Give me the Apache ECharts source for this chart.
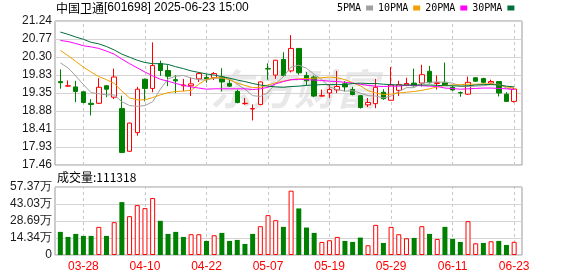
<!DOCTYPE html>
<html>
<head>
<meta charset="utf-8">
<script src="https://cdn.jsdelivr.net/npm/echarts@6/dist/echarts.min.js"></script>
<style>
html,body{margin:0;padding:0;background:#fff;}
#c{width:578px;height:276px;}
</style>
</head>
<body>
<div id="c"></div>
<script>
const dates = ['03-25','03-26','03-27','03-28','03-31','04-01','04-02','04-03','04-07','04-08','04-09','04-10','04-11','04-14','04-15','04-16','04-17','04-18','04-21','04-22','04-23','04-24','04-25','04-28','04-29','04-30','05-06','05-07','05-08','05-09','05-12','05-13','05-14','05-15','05-16','05-19','05-20','05-21','05-22','05-23','05-26','05-27','05-28','05-29','05-30','06-03','06-04','06-05','06-06','06-09','06-10','06-11','06-12','06-13','06-16','06-17','06-18','06-19','06-20','06-23'];
const opens  = [19.65,19.53,19.51,19.38,19.08,19.08,19.54,19.24,18.94,17.82,18.31,19.71,19.47,20.12,19.94,19.70,19.54,19.54,19.72,19.76,19.75,19.77,19.60,19.39,19.07,18.93,19.05,19.99,19.82,20.23,19.93,20.52,19.81,19.77,19.27,19.35,19.43,19.59,19.44,19.28,19.04,19.07,19.37,19.16,19.42,19.56,19.61,19.61,19.92,19.60,19.63,19.50,19.36,19.32,19.75,19.73,19.61,19.65,19.32,19.13];
const closes = [19.62,19.54,19.39,19.10,19.05,19.50,19.45,19.77,17.79,18.56,19.45,19.47,20.07,19.94,19.79,19.67,19.56,19.59,19.86,19.72,19.86,19.64,19.53,19.10,19.08,18.94,19.64,19.98,20.21,19.81,20.52,19.88,19.67,19.27,19.28,19.44,19.52,19.51,19.31,18.97,19.10,19.50,19.20,19.56,19.57,19.60,19.54,19.83,19.62,19.62,19.56,19.43,19.35,19.63,19.66,19.63,19.65,19.35,19.13,19.455];
const highs  = [19.97,19.68,19.67,19.39,19.19,19.74,19.56,19.99,19.28,18.57,19.51,19.73,20.68,20.20,20.08,19.82,19.72,19.76,19.89,19.84,19.90,20.00,19.70,19.44,19.22,19.05,19.65,20.13,20.22,20.42,20.87,20.53,19.90,19.81,19.44,19.57,19.93,19.66,19.51,19.30,19.22,19.72,19.45,20.03,19.67,19.75,19.99,20.09,20.06,19.81,20.15,19.54,19.39,19.78,19.76,19.75,19.70,19.65,19.37,19.48];
const lows   = [19.46,19.52,19.11,19.08,18.76,19.06,19.24,19.19,17.78,17.81,18.23,19.13,19.37,19.80,19.53,19.35,19.40,19.27,19.64,19.62,19.69,19.39,19.51,19.08,19.04,18.63,19.03,19.70,19.72,19.77,19.89,19.83,19.55,19.24,19.26,19.22,19.35,19.39,19.29,18.94,18.98,18.95,19.17,19.15,19.27,19.53,19.52,19.52,19.60,19.44,19.55,19.41,19.25,19.30,19.64,19.60,19.58,19.26,19.13,19.10];
const volumes = [195000,152600,178000,161100,161100,237400,161100,277000,446500,327800,421100,395600,480400,288300,178000,195000,152600,175200,175200,118700,166700,186500,118700,127200,93300,178000,243000,336300,293900,237400,542600,392800,231700,186500,110200,124300,152600,118700,110200,147000,82000,254300,101700,237400,175200,141300,144100,243000,178000,135600,237400,135600,110200,285400,98900,101700,115900,118700,84800,111318];
const prevClose = 19.70;
const ma5  = [20.14,20.01,19.80,19.57,19.36,19.33,19.30,19.30,19.12,19.02,19.00,19.02,19.12,19.45,19.72,19.79,19.81,19.74,19.70,19.69,19.74,19.74,19.72,19.58,19.45,19.28,19.26,19.36,19.60,19.78,20.03,20.08,20.00,19.84,19.70,19.51,19.44,19.40,19.41,19.35,19.28,19.27,19.22,19.27,19.39,19.49,19.49,19.61,19.63,19.64,19.63,19.61,19.53,19.52,19.53,19.54,19.58,19.58,19.48,19.44];
const ma10 = [20.47,20.33,20.18,20.03,19.90,19.78,19.70,19.60,19.40,19.22,19.17,19.17,19.23,19.30,19.36,19.39,19.40,19.42,19.58,19.71,19.75,19.75,19.70,19.61,19.55,19.49,19.50,19.56,19.62,19.66,19.70,19.72,19.73,19.74,19.75,19.77,19.75,19.70,19.62,19.54,19.41,19.35,19.31,19.32,19.35,19.37,19.39,19.42,19.46,19.51,19.55,19.56,19.57,19.58,19.58,19.59,19.59,19.56,19.51,19.48];
const ma20 = [20.73,20.70,20.65,20.59,20.56,20.52,20.45,20.37,20.24,20.12,20.01,19.90,19.80,19.71,19.66,19.60,19.55,19.51,19.48,19.45,19.46,19.46,19.46,19.46,19.46,19.44,19.46,19.50,19.59,19.65,19.70,19.71,19.70,19.69,19.68,19.66,19.65,19.63,19.61,19.58,19.55,19.53,19.52,19.53,19.53,19.55,19.55,19.54,19.53,19.52,19.48,19.465,19.45,19.46,19.47,19.48,19.48,19.47,19.46,19.44];
const ma30 = [20.95,20.89,20.82,20.76,20.68,20.64,20.57,20.48,20.37,20.29,20.21,20.15,20.12,20.12,20.10,20.04,19.99,19.93,19.89,19.85,19.82,19.78,19.74,19.69,19.65,19.60,19.56,19.53,19.51,19.50,19.52,19.53,19.55,19.56,19.57,19.57,19.57,19.57,19.60,19.61,19.60,19.60,19.58,19.57,19.56,19.56,19.56,19.56,19.56,19.55,19.54,19.54,19.53,19.54,19.56,19.57,19.57,19.56,19.53,19.51];
const priceTicks = ['17.46','17.93','18.41','18.88','19.35','19.83','20.30','20.77','21.24'];
const volTicks = ['0','14.34万','28.69万','43.03万','57.37万'];
const labelDates = ['03-28','04-10','04-22','05-07','05-19','05-29','06-11','06-23'];
const priceMin = 17.46, priceMax = 21.24, volMax = 573700;
const stockTitle = '中国卫通';
const stockCode = '[601698] 2025-06-23 15:00';

const UP = '#ff0000', DOWN = '#008000';
const chart = echarts.init(document.getElementById('c'), null, {renderer: 'canvas'});

const kData = dates.map((d, i) => [opens[i], closes[i], lows[i], highs[i]]);
const volData = volumes.map((v, i) => {
  const pc = i === 0 ? prevClose : closes[i - 1];
  const up = closes[i] >= pc;
  return {value: v, itemStyle: up ? {color: '#ffffff', borderColor: UP, borderWidth: 1} : {color: DOWN, borderColor: DOWN, borderWidth: 0}};
});
const vLines = labelDates.map(d => ({xAxis: d}));
const dashStyle = {color: '#c8c8c8', width: 1, type: [3, 3]};
const maDefs = [['5PMA', ma5, '#a0a0a0'], ['10PMA', ma10, '#f0a000'], ['20PMA', ma20, '#ff00ff'], ['30PMA', ma30, '#006f3a']];
const labelFont = 'Liberation Sans';

const option = {
  animation: false,
  title: [
    {text: '{c|' + stockTitle + '}{m|' + stockCode + '}', left: 56, top: 2, padding: 0,
     textStyle: {fontWeight: 'normal', rich: {c: {fontSize: 12, fontWeight: 'normal', fontFamily: 'Noto Sans CJK SC', color: '#000'},
                        m: {fontSize: 12, fontWeight: 'normal', fontFamily: labelFont, color: '#000'}}}},
    {text: '成交量:' + volumes[volumes.length - 1], left: 57, top: 171, padding: 0,
     textStyle: {fontSize: 12, fontWeight: 'normal', color: '#000', fontFamily: 'Noto Sans CJK SC'}}
  ],
  legend: {
    left: 337, top: 3, padding: 0, itemWidth: 7, itemHeight: 5, itemGap: 5, align: 'right',
    icon: 'rect', selectedMode: false,
    data: maDefs.map(m => m[0]),
    textStyle: {fontFamily: 'DejaVu Sans Mono', fontSize: 10, color: '#000'}
  },
  grid: [
    {left: 55, top: 21, width: 467, height: 144, show: true, borderColor: '#999', borderWidth: 1},
    {left: 56.5, top: 21, width: 461.5, height: 144},
    {left: 55, top: 187, width: 467, height: 68, show: true, borderColor: '#999', borderWidth: 1},
    {left: 56.5, top: 187, width: 461.5, height: 68}
  ],
  xAxis: [
    {gridIndex: 0, type: 'value', min: 0, max: 1, show: false},
    {gridIndex: 1, type: 'category', data: dates, boundaryGap: true, show: false},
    {gridIndex: 2, type: 'value', min: 0, max: 1, show: false},
    {gridIndex: 3, type: 'category', data: dates, boundaryGap: true,
     axisLine: {show: false}, axisTick: {show: false}, splitLine: {show: false},
     axisLabel: {interval: (idx, val) => labelDates.indexOf(val) >= 0, color: UP, fontSize: 12, margin: 6, fontFamily: labelFont}}
  ],
  yAxis: [
    {gridIndex: 0, type: 'value', min: 0, max: 8, interval: 1, axisLine: {show: false}, axisTick: {show: false},
     axisLabel: {formatter: v => priceTicks[v], color: '#1a1a1a', fontSize: 12, margin: 3, fontFamily: labelFont},
     splitLine: {lineStyle: {color: '#d4d4d4', width: 1}}},
    {gridIndex: 1, type: 'value', min: priceMin, max: priceMax, show: false, splitLine: {show: false}},
    {gridIndex: 2, type: 'value', min: 0, max: 4, interval: 1, axisLine: {show: false}, axisTick: {show: false},
     axisLabel: {formatter: v => volTicks[v], color: '#1a1a1a', fontSize: 12, margin: 3, fontFamily: labelFont},
     splitLine: {lineStyle: {color: '#d4d4d4', width: 1}}},
    {gridIndex: 3, type: 'value', min: 0, max: volMax, show: false, splitLine: {show: false}}
  ],
  graphic: [
    {type: 'text', left: 210, top: 68, z: 0, silent: true,
     style: {text: '东方财富', font: 'italic bold 42px "Noto Sans CJK SC"', fill: '#e8e8e8'}}
  ],
  series: [
    {type: 'line', name: 'gridK', xAxisIndex: 1, yAxisIndex: 1, data: closes, symbol: 'none', silent: true,
     lineStyle: {opacity: 0}, z: 1,
     markLine: {symbol: 'none', silent: true, z: 1, label: {show: false}, lineStyle: dashStyle, data: vLines}},
    {type: 'candlestick', name: 'K', xAxisIndex: 1, yAxisIndex: 1, data: kData, barWidth: 5, z: 2,
     itemStyle: {color: '#ffffff', color0: DOWN, borderColor: UP, borderColor0: DOWN, borderWidth: 1}},
    ...maDefs.map(m => ({type: 'line', name: m[0], xAxisIndex: 1, yAxisIndex: 1, data: m[1], symbol: 'none',
      showSymbol: false, silent: true, z: 3, lineStyle: {width: 1, color: m[2]}, itemStyle: {color: m[2]}})),
    {type: 'line', name: 'gridV', xAxisIndex: 3, yAxisIndex: 3, data: volumes, symbol: 'none', silent: true,
     lineStyle: {opacity: 0}, z: 1,
     markLine: {symbol: 'none', silent: true, z: 1, label: {show: false}, lineStyle: dashStyle, data: vLines}},
    {type: 'bar', name: 'VOL', xAxisIndex: 3, yAxisIndex: 3, data: volData, barWidth: 5, z: 2}
  ]
};
chart.setOption(option);
</script>
</body>
</html>
